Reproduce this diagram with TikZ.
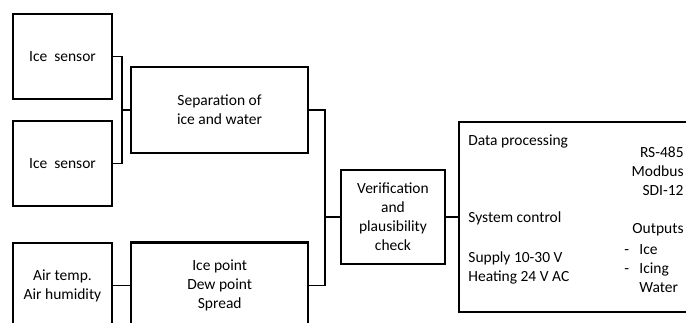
\documentclass[tikz,border=0pt]{standalone}
\usepackage{fontspec}
\setmainfont{Carlito}
\usetikzlibrary{positioning}

\begin{document}
\begin{tikzpicture}[
            x = 1pt, y = 1pt, % one unit per pixel
            font = \fontsize{15.5}{19}\selectfont, % text size of the scan
            thick % line style
        ]

        \tikzstyle{box}=[
            draw = black,
            line width = 2.2pt,
            align = center,
            inner sep = 2pt
        ]
        \tikzstyle{wire}=[line width = 1.4pt]
        \tikzstyle{txt}=[inner sep = 0pt]

        \useasboundingbox (0,0) rectangle (686,323);
        \clip (0,0) rectangle (686,323);

        % sensors and first stage
        \node[box, minimum width = 99pt, minimum height = 85pt] (ice1) at (62.5,266.5) {Ice\ \ sensor};
        \node[box, minimum width = 99pt, minimum height = 85pt] (ice2) [below = 20pt of ice1] {Ice\ \ sensor};
        \node[box, minimum width = 177pt, minimum height = 86pt] (sep) at (219.5,213) {Separation of\\ice and water};
        \node[box, minimum width = 99pt, minimum height = 85pt] (air) at (62.5,37.5) {Air temp.\\Air humidity};
        \node[box, minimum width = 177pt, minimum height = 86pt] (icept) [right = 17pt of air] {Ice point\\Dew point\\Spread};

        % check and electronics
        \node[box, minimum width = 104pt, minimum height = 94pt] (verif) at (393,106) {Verification\\and\\plausibility\\check};
        \node[box, minimum width = 241pt, minimum height = 190pt] (data) [right = 12pt of verif] {};

        \node[txt, anchor = west] (proc) at (468,181) {Data processing};
        \node[txt, anchor = west] (ctrl) at (468,105) {System control};
        \node[txt, anchor = west, align = left] (supply) at (468,55.5) {Supply 10-30 V\\Heating 24 V AC};
        \node[txt, anchor = east, align = right] (bus) at (684,152) {RS-485\\Modbus\\SDI-12};
        \node[txt, anchor = east] (outs) at (684,93) {Outputs};
        \node[txt, anchor = west, align = left] (list) at (624,54) {\makebox[15pt][l]{-}Ice\\\makebox[15pt][l]{-}Icing\\\makebox[15pt][l]{}Water};

        % connectors
        \coordinate (j1) at (122,213);
        \coordinate (j2) at (325,106);
        \draw[wire] (ice1.east) -| (j1) |- (ice2.east);
        \draw[wire] (j1) -- (sep.west);
        \draw[wire] (sep.east) -| (j2) |- (icept.east);
        \draw[wire] (j2) -- (verif.west);
        \draw[wire] (verif.east) -- (data.west);
        \draw[wire] (air.east) -- (icept.west);

    \end{tikzpicture}
\end{document}
